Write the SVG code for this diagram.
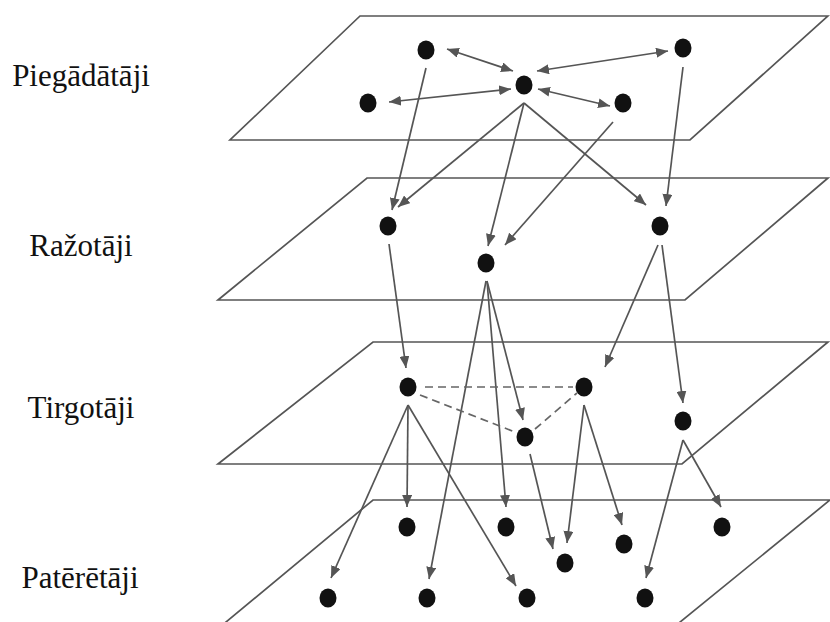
<svg xmlns="http://www.w3.org/2000/svg" width="830" height="622" viewBox="0 0 830 622">
<style>
.plane{fill:none;stroke:#555;stroke-width:1.7}
.node{fill:#111}
.c{stroke:#555;stroke-width:1.7;fill:none;marker-end:url(#ah)}
.d{marker-start:url(#ah)}
.dash{stroke:#666;stroke-width:1.7;fill:none;stroke-dasharray:8 5}
.lbl{font-family:"Liberation Serif","Times New Roman",serif;font-size:31px;fill:#111;text-anchor:middle}
</style>
<defs>
<marker id="ah" markerUnits="userSpaceOnUse" markerWidth="12" markerHeight="10" refX="12" refY="5" orient="auto-start-reverse">
<path d="M0,0 L12,5 L0,10 z" fill="#555"/>
</marker>
</defs>
<rect width="830" height="622" fill="#fff"/>
<g id="planes">
<polygon class="plane" points="360,16 828,16 690,140 230,140"/>
<polygon class="plane" points="367,178 828,178 685,300 218,300"/>
<polygon class="plane" points="373,342 828,342 682,464 218,464"/>
<polyline class="plane" points="220,627 373,500 830,500 674,627"/>
</g>
<g id="labels">
<text class="lbl" x="81" y="86">Piegādātāji</text>
<text class="lbl" x="81" y="256">Ražotāji</text>
<text class="lbl" x="81" y="418">Tirgotāji</text>
<text class="lbl" x="80" y="588">Patērētāji</text>
</g>
<g id="connectors">
<line class="c d" x1="447" y1="49" x2="513" y2="71"/>
<line class="c d" x1="537" y1="71" x2="668" y2="51"/>
<line class="c d" x1="389" y1="102" x2="511" y2="89"/>
<line class="c d" x1="538" y1="89" x2="610" y2="106"/>
<line class="c" x1="426" y1="68" x2="392" y2="210"/>
<line class="c" x1="524" y1="103" x2="398" y2="207"/>
<line class="c" x1="524" y1="103" x2="488" y2="246"/>
<line class="c" x1="524" y1="103" x2="646" y2="205"/>
<line class="c" x1="613" y1="122" x2="505" y2="245"/>
<line class="c" x1="683" y1="67" x2="666" y2="206"/>
<line class="c" x1="389" y1="244" x2="406" y2="368"/>
<line class="c" x1="658" y1="245" x2="605" y2="367"/>
<line class="c" x1="662" y1="245" x2="683" y2="403"/>
<line class="c" x1="487" y1="281" x2="523" y2="420"/>
<line class="c" x1="486" y1="281" x2="429" y2="579"/>
<line class="c" x1="487" y1="281" x2="506" y2="507"/>
<line class="c" x1="408" y1="405" x2="331" y2="578"/>
<line class="c" x1="408" y1="405" x2="407" y2="507"/>
<line class="c" x1="408" y1="405" x2="516" y2="586"/>
<line class="c" x1="584" y1="405" x2="567" y2="543"/>
<line class="c" x1="584" y1="405" x2="622" y2="525"/>
<line class="c" x1="530" y1="454" x2="553" y2="549"/>
<line class="c" x1="683" y1="440" x2="721" y2="507"/>
<line class="c" x1="683" y1="440" x2="646" y2="578"/>
<line class="dash" x1="425" y1="387" x2="573" y2="387"/>
<line class="dash" x1="420" y1="395" x2="515" y2="432"/>
<line class="dash" x1="535" y1="429" x2="577" y2="393"/>
</g>
<g id="suppliers">
<ellipse id="s1" class="node" cx="426" cy="50" rx="8.5" ry="9.5"/>
<ellipse id="s2" class="node" cx="683" cy="48" rx="8.5" ry="9.5"/>
<ellipse id="s3" class="node" cx="524" cy="85" rx="8.5" ry="9.5"/>
<ellipse id="s4" class="node" cx="368" cy="103" rx="8.5" ry="9.5"/>
<ellipse id="s5" class="node" cx="623" cy="103" rx="8.5" ry="9.5"/>
</g>
<g id="producers">
<ellipse id="r1" class="node" cx="388" cy="226" rx="8.5" ry="9.5"/>
<ellipse id="r2" class="node" cx="486" cy="263" rx="8.5" ry="9.5"/>
<ellipse id="r3" class="node" cx="660" cy="226" rx="8.5" ry="9.5"/>
</g>
<g id="traders">
<ellipse id="t1" class="node" cx="408" cy="387" rx="8.5" ry="9.5"/>
<ellipse id="t2" class="node" cx="584" cy="387" rx="8.5" ry="9.5"/>
<ellipse id="t3" class="node" cx="683" cy="421" rx="8.5" ry="9.5"/>
<ellipse id="t4" class="node" cx="525" cy="437" rx="8.5" ry="9.5"/>
</g>
<g id="consumers">
<ellipse id="p1" class="node" cx="407" cy="527" rx="8.5" ry="9.5"/>
<ellipse id="p2" class="node" cx="506" cy="527" rx="8.5" ry="9.5"/>
<ellipse id="p3" class="node" cx="624" cy="544" rx="8.5" ry="9.5"/>
<ellipse id="p4" class="node" cx="722" cy="527" rx="8.5" ry="9.5"/>
<ellipse id="p5" class="node" cx="565" cy="563" rx="8.5" ry="9.5"/>
<ellipse id="p6" class="node" cx="328" cy="598" rx="8.5" ry="9.5"/>
<ellipse id="p7" class="node" cx="427" cy="598" rx="8.5" ry="9.5"/>
<ellipse id="p8" class="node" cx="527" cy="598" rx="8.5" ry="9.5"/>
<ellipse id="p9" class="node" cx="645" cy="598" rx="8.5" ry="9.5"/>
</g>
</svg>
